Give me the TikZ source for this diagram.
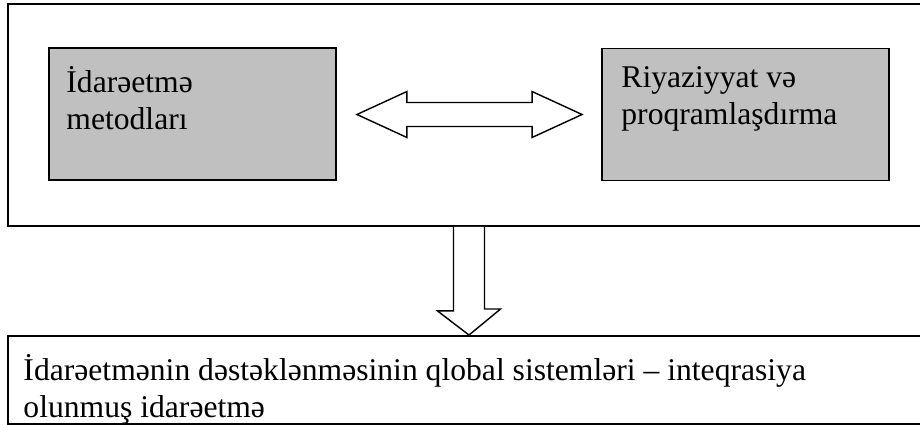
\documentclass[tikz,border=0pt]{standalone}
\usepackage{fontspec}
\setmainfont{Liberation Serif}
\usetikzlibrary{calc, positioning}
\definecolor{boz}{RGB}{192,192,192}
\tikzset{
  frame/.style={rectangle, draw=black, line width=1.1pt, inner sep=0pt},
  blok/.style={rectangle, draw=black, line width=1.1pt, fill=boz, inner sep=0pt,
               minimum width=5.74cm, minimum height=2.64cm},
  yazi/.style={inner sep=0pt, align=left, font=\fontsize{18}{20.8}\selectfont},
  oxblok/.style={draw=black, line width=0.8pt, fill=white, line join=miter}
}
\begin{document}
\begin{tikzpicture}[x=0.02cm, y=-0.02cm]
  \useasboundingbox (0,0) rectangle (920,425);

  % xarici cercive ve boz bloklar
  \node[frame, minimum width=18.44cm, minimum height=4.44cm] (xarici) at (469,115) {};
  \node[blok] (ml) at (192.5,114) {};
  \node[blok] (mr) at (745.5,114.5) {};
  \node[yazi, anchor=north west] (tl) at ($(ml.north west)+(18,19)$) {İdarəetmə\\metodları};
  \node[yazi, anchor=north west] (tr) at ($(mr.north west)+(20,19)$) {Riyaziyyat və\\proqramlaşdırma};

  % asagidaki blok
  \node[frame, minimum width=18.44cm, minimum height=1.76cm] (alt) at (469,380) {};
  \node[yazi, anchor=north west] (ta) at ($(alt.north west)+(16,19)$)
    {İdarəetmənin dəstəklənməsinin qlobal sistemləri – inteqrasiya\\olunmuş idarəetmə};

  % iki terefli ox
  \coordinate (dl) at ($(ml.east)+(20,0.5)$);
  \coordinate (dr) at ($(mr.west)+(-19,0)$);
  \draw[oxblok] (dl) -- ++(50,-23) -- ++(0,11) -- ($(dr)+(-50,-12)$) -- ++(0,-11) -- (dr)
    -- ++(-50,23) -- ++(0,-11) -- ($(dl)+(50,12)$) -- ++(0,11) -- cycle;

  % asagi ox
  \draw[oxblok] ($(xarici.south)+(-15.5,0)$) -- ++(0,84) -- ++(-16,0) -- (alt.north)
    -- ++(31.5,-26) -- ++(-16,0) -- ($(xarici.south)+(15.5,0)$);
\end{tikzpicture}
\end{document}
